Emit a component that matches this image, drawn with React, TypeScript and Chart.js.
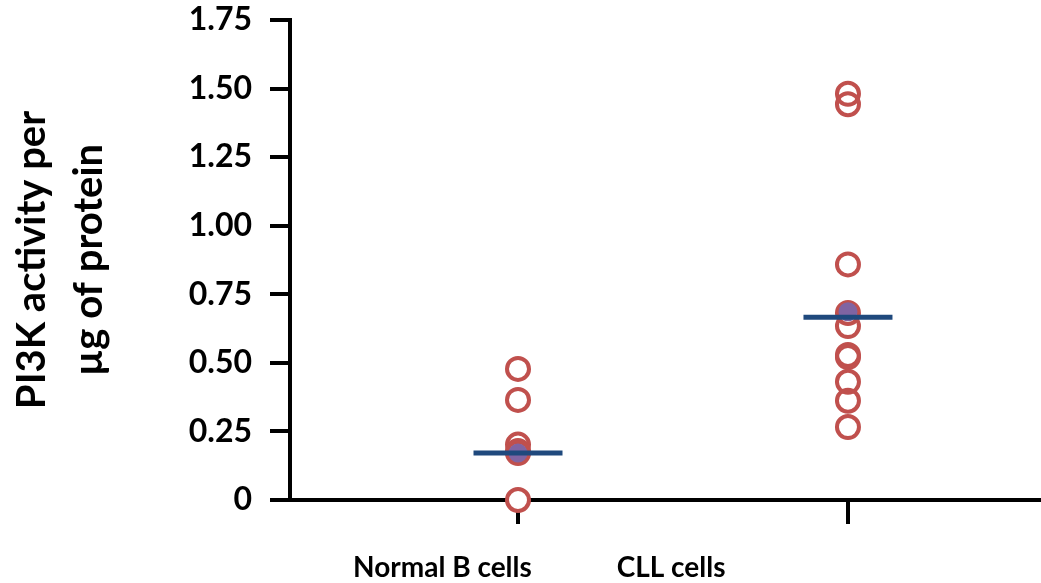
import React, { useEffect, useRef } from 'react';
import { Chart, registerables } from 'chart.js';

Chart.register(...registerables);

// ---- data ----
const categories = ['Normal B cells', 'CLL cells'];
const categoryX = [1, 2];
const categoryLabelX = [0.771, 1.464];
const normalValues = [0.478, 0.365, 0.202, 0.179, 0.171, 0];
const cllValues = [1.481, 1.443, 0.859, 0.682, 0.634, 0.529, 0.521, 0.431, 0.362, 0.266];
const medianValues = [0.171, 0.666];
const markerValues = [0.171, 0.686];
const yTicks = [0, 0.25, 0.5, 0.75, 1, 1.25, 1.5, 1.75];
const yTickLabels = ['0', '0.25', '0.50', '0.75', '1.00', '1.25', '1.50', '1.75'];
const yTitle = ['PI3K activity per', 'µg of protein'];

const FONT = 'Lato';

// x-axis baseline drawn across the full canvas width (under the data)
const xAxisLinePlugin = {
  id: 'xAxisLine',
  beforeDatasetsDraw(chart: any) {
    const { ctx, chartArea } = chart;
    const y = chart.scales.x.top;
    ctx.save();
    ctx.fillStyle = '#000';
    ctx.fillRect(chartArea.left - 2, y - 2, chart.width - chartArea.left + 2, 4);
    ctx.restore();
  },
};

const categoryLabelPlugin = {
  id: 'categoryLabels',
  afterDraw(chart: any) {
    const { ctx } = chart;
    const xs = chart.scales.x;
    ctx.save();
    ctx.font = `bold 28px ${FONT}`;
    ctx.fillStyle = '#000';
    ctx.textAlign = 'center';
    ctx.textBaseline = 'alphabetic';
    categories.forEach((c, i) => {
      ctx.fillText(c, xs.getPixelForValue(categoryLabelX[i]), 577);
    });
    ctx.restore();
  },
};

export default function App() {
  const ref = useRef<HTMLCanvasElement | null>(null);

  useEffect(() => {
    if (!ref.current) return;
    const normalPts = normalValues.map((y) => ({ x: categoryX[0], y }));
    const cllPts = cllValues.map((y) => ({ x: categoryX[1], y }));
    const ringStyle = {
      pointStyle: 'circle',
      pointRadius: 11,
      pointBorderWidth: 4,
      pointBorderColor: '#c0504d',
      pointBackgroundColor: 'rgba(0,0,0,0)',
      showLine: false,
      clip: false,
    };
    const underStyle = {
      pointStyle: 'circle',
      pointRadius: 11,
      pointBorderWidth: 0,
      pointBackgroundColor: '#ffffff',
      showLine: false,
      clip: false,
    };
    const chart = new Chart(ref.current, {
      type: 'scatter',
      data: {
        datasets: [
          {
            label: 'Median',
            order: 0,
            data: categoryX.map((x, i) => ({ x, y: medianValues[i] })),
            pointStyle: 'line',
            pointRadius: 44.5,
            pointBorderWidth: 5,
            pointBorderColor: '#1f497d',
            borderColor: '#1f497d',
            showLine: false,
            clip: false,
          } as any,
          {
            label: 'Marker',
            order: 1,
            data: categoryX.map((x, i) => ({ x, y: markerValues[i] })),
            pointStyle: 'circle',
            pointRadius: 9.5,
            pointBorderWidth: 0,
            pointBackgroundColor: '#8064a2',
            showLine: false,
            clip: false,
          } as any,
          { label: 'Normal B cells', order: 2, data: normalPts, ...ringStyle } as any,
          { label: 'CLL cells', order: 2, data: cllPts, ...ringStyle } as any,
          { label: 'u1', order: 3, data: normalPts, ...underStyle } as any,
          { label: 'u2', order: 3, data: cllPts, ...underStyle } as any,
        ],
      },
      options: {
        animation: false,
        responsive: true,
        maintainAspectRatio: false,
        events: [],
        layout: { autoPadding: false, padding: { top: 20, right: 0, left: 0, bottom: 0 } },
        plugins: { legend: { display: false }, tooltip: { enabled: false } },
        scales: {
          x: {
            type: 'linear',
            min: 0.309,
            max: 2.585,
            afterBuildTicks: (s: any) => {
              s.ticks = categoryX.map((v) => ({ value: v }));
            },
            afterFit: (s: any) => {
              s.height = 83;
              s.paddingLeft = 0;
              s.paddingRight = 0;
              s.paddingTop = 0;
              s.paddingBottom = 0;
            },
            ticks: { display: false },
            grid: {
              drawOnChartArea: false,
              drawTicks: true,
              tickLength: 24,
              lineWidth: 4,
              color: '#000',
            },
            border: { display: false },
          },
          y: {
            type: 'linear',
            min: 0,
            max: 1.75,
            afterBuildTicks: (s: any) => {
              s.ticks = yTicks.map((v) => ({ value: v }));
            },
            afterFit: (s: any) => {
              s.width = 290;
              s.paddingLeft = 0;
              s.paddingRight = 0;
              s.paddingTop = 0;
              s.paddingBottom = 0;
            },
            ticks: {
              callback: (_v: any, i: number) => yTickLabels[i],
              font: { family: FONT, size: 32, weight: 'bold' },
              color: '#000',
              padding: 18,
            },
            grid: {
              drawOnChartArea: false,
              drawTicks: true,
              tickLength: 20,
              lineWidth: 4,
              color: '#000',
            },
            border: { display: true, width: 4, color: '#000' },
            title: {
              display: true,
              text: yTitle,
              color: '#000',
              font: { family: FONT, size: 40, weight: 'bold', lineHeight: 1.42 },
              padding: { top: 4, bottom: 0 },
            },
          },
        },
      } as any,
      plugins: [xAxisLinePlugin, categoryLabelPlugin],
    });
    return () => chart.destroy();
  }, []);

  return (
    <div style={{ position: 'fixed', left: 0, top: 0, width: 1041, height: 583, background: '#fff' }}>
      <canvas ref={ref} />
    </div>
  );
}
